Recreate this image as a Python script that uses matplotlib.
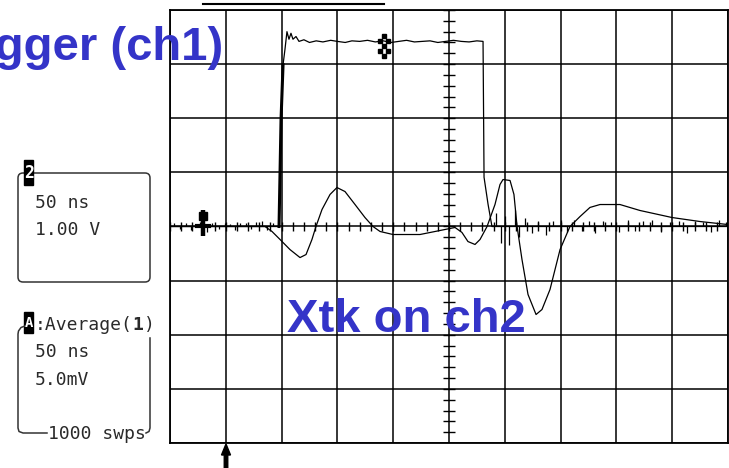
import numpy as np
import matplotlib
matplotlib.use("Agg")
import matplotlib.pyplot as plt
from matplotlib.patches import FancyBboxPatch, Rectangle

# scope settings: 50 ns/div, ch2 1.00 V/div, averaged crosstalk 5.0 mV/div
ns_per_div = 50
n_xdiv, n_ydiv = 10, 8

# trigger step (ch2, volts) vs time (ns from left edge of screen)
step_t = [0, 97.7, 99.5, 101.3, 103.0, 104.8, 106.6, 108.4, 110.2, 112.9, 115.6,
          120, 125, 131, 137, 144, 150, 157, 163, 170, 177, 184, 191, 198, 205,
          212, 219, 226, 233, 240, 247, 254, 261, 268, 275, 280.5, 281.4, 285.0,
          288.5, 500]
step_v = [0, 0, 1.98, 2.99, 3.27, 3.60, 3.46, 3.57, 3.46, 3.51, 3.42,
          3.45, 3.40, 3.43, 3.41, 3.44, 3.42, 3.40, 3.43, 3.42, 3.44, 3.41, 3.43,
          3.40, 3.42, 3.44, 3.41, 3.42, 3.43, 3.40, 3.42, 3.44, 3.42, 3.41, 3.43,
          3.42, 0.91, 0.41, 0, 0]

# baseline noise spikes on the step trace
noise_t = [4, 9, 14, 19, 23, 27, 33, 38, 44, 49, 54, 58, 63, 68, 73, 77, 82, 87, 92,
           292, 297, 300, 304, 309, 313, 318, 324, 330, 337, 343, 350, 356, 362,
           369, 375, 381, 388, 395, 402, 410, 417, 424, 432, 440, 448, 456, 463,
           470, 478, 485, 492, 498]
noise_v = [0.06, -0.05, 0.07, -0.06, 0.05, 0.08, -0.10, 0.06, -0.05, 0.07, 0.05,
           -0.06, 0.07, 0.06, -0.05, 0.08, 0.10, -0.07, 0.06,
           0.25, -0.30, 0.20, -0.35, 0.30, -0.20, 0.15, -0.12, 0.10, -0.15, 0.10,
           0.12, -0.10, 0.12, -0.08, 0.10, -0.12, 0.10, 0.08, -0.10, 0.12, -0.08,
           0.10, 0.12, -0.10, 0.08, 0.10, -0.12, 0.10, 0.08, -0.10, 0.12, 0.08]

# averaged crosstalk (mV)
xtalk_t = [0, 85.1, 91.4, 98.6, 107.5, 116.5, 121.9, 127.2, 130.8, 136.2, 143.4,
           149.6, 156.8, 165.8, 174.7, 181.9, 188.2, 199.8, 224.0, 241.9, 255.4,
           261.6, 267.0, 273.3, 277.8, 284.1, 291.2, 295.7, 298.4, 304.7, 308.2,
           311.0, 315.4, 320.8, 328.0, 333.3, 340.5, 349.5, 358.4, 367.4, 376.3,
           385.3, 403.2, 421.1, 449.8, 474.9, 500]
xtalk_mv = [0, 0, -0.46, -1.20, -2.13, -2.87, -2.59, -1.20, 0, 1.57, 2.96,
            3.60, 3.23, 2.03, 0.83, 0, -0.46, -0.74, -0.74, -0.37, -0.09,
            -0.55, -1.39, -1.66, -1.20, 0, 2.03, 3.88, 4.34, 4.25, 2.96,
            0, -3.05, -6.28, -8.13, -7.67, -5.82, -2.13, 0, 0.92, 1.76,
            2.03, 2.03, 1.48, 0.83, 0.46, 0.18]

cursor_t = [29.6, 191.8]

W, H = 729, 468
fig = plt.figure(figsize=(W / 100, H / 100), dpi=100)

ax = fig.add_axes([170 / W, 1 - 443 / H, (728 - 170) / W, (443 - 10) / H])
ax.set_xlim(0, ns_per_div * n_xdiv)
ax.set_ylim(-n_ydiv / 2, n_ydiv / 2)
ax.set_xticks(np.arange(0, 501, ns_per_div))
ax.set_yticks(np.arange(-4, 5, 1))
ax.tick_params(length=0, labelbottom=False, labelleft=False)
ax.grid(True, color="black", lw=1.1)
for s in ax.spines.values():
    s.set_linewidth(1.3)

# minor graticule ticks on the centre lines
ax.vlines(np.arange(0, 500.1, 10), -0.09, 0.09, color="black", lw=1)
ax.hlines(np.arange(-4, 4.01, 0.2), 250 - 5.4, 250 + 5.4, color="black", lw=1)

ax2 = ax.twinx()
ax2.set_ylim(-20, 20)
ax2.set_yticks([])
for s in ax2.spines.values():
    s.set_visible(False)

ax.plot(step_t, step_v, color="black", lw=0.9)
ax.plot(step_t[1:4], step_v[1:4], color="black", lw=2.2)  # bright rising edge
ax.vlines(noise_t, 0, noise_v, color="black", lw=0.9)
ax2.plot(xtalk_t, xtalk_mv, color="black", lw=0.9)

# cursors
t0, t1 = cursor_t
ax.plot([t0, t0], [-0.18, 0.31], lw=3.2, color="black", solid_capstyle="butt")
ax.plot([t0], [0.2], marker="s", ms=6, color="black")
ax.plot([t0 - 5.4, t0 + 5.4], [0, 0], lw=3, color="black")
dx, dy = 3.6, 0.092
ax.plot([t1, t1 - dx, t1 + dx, t1, t1 - dx, t1 + dx, t1],
        [3.33 + 2 * dy, 3.33 + dy, 3.33 + dy, 3.33, 3.33 - dy, 3.33 - dy, 3.33 - 2 * dy],
        ls="none", marker="s", ms=2.6, color="black")
ax.plot(cursor_t, [4.12, 4.12], color="black", lw=1.5, clip_on=False)

# overlay in pixel units for the readout boxes and labels
ov = fig.add_axes([0, 0, 1, 1], zorder=5)
ov.set_xlim(0, W)
ov.set_ylim(H, 0)
ov.axis("off")
ov.patch.set_alpha(0)

mono = dict(family="DejaVu Sans Mono", fontsize=13, color="#2a2a2a", va="baseline")
ov.add_patch(FancyBboxPatch((18, 173), 132, 109, boxstyle="round,pad=0,rounding_size=5",
                            fill=False, lw=1.1, ec="#333333"))
ov.add_patch(Rectangle((24.5, 160), 9, 25, color="black"))
ov.text(29, 173, "2", family="DejaVu Sans Mono", fontsize=12, fontweight="bold",
        color="white", ha="center", va="center")
ov.text(35, 208, "50 ns", **mono)
ov.text(35, 235, "1.00 V", **mono)

ov.plot([25, 21, 18.5, 18, 18, 19, 23, 47],
        [326, 327.5, 331, 334, 428, 431.5, 433, 433], color="#333333", lw=1.1)
ov.plot([150, 150, 149, 146], [338, 428, 431.5, 433], color="#333333", lw=1.1)
ov.add_patch(Rectangle((24.5, 312), 9, 21, color="black"))
ov.text(29, 323, "A", family="DejaVu Sans Mono", fontsize=10, fontweight="bold",
        color="white", ha="center", va="center")
ov.text(35, 330, ":Average(", **mono)
ov.text(132.5, 330, "1", fontweight="bold", **mono)
ov.text(143.5, 330, ")", **mono)
ov.text(35, 357, "50 ns", **mono)
ov.text(35, 385, "5.0mV", **mono)
ov.text(48, 439, "1000 swps", **mono)

# trigger position arrow
ov.arrow(226, 470, 0, -26, width=3.5, head_width=9, head_length=11,
         length_includes_head=True, color="black")

blue = dict(family="Liberation Sans", fontsize=34, fontweight="bold",
            color="#3434c8", va="baseline")
ov.text(223, 60, "Trigger (ch1)", ha="right", **blue)
ov.text(287, 332, "Xtk on ch2", ha="left", **blue)

fig.savefig("out.png", dpi=100)
